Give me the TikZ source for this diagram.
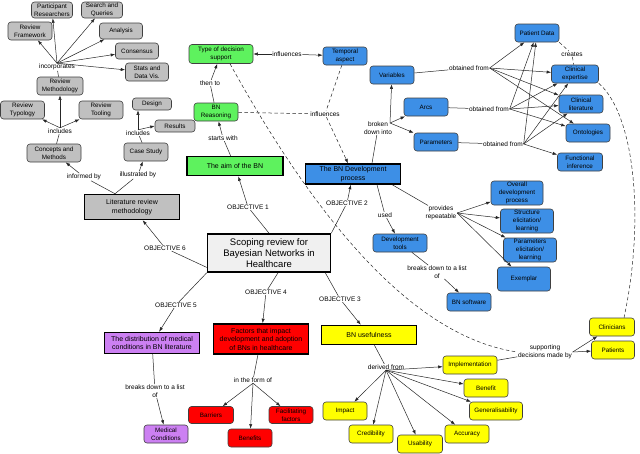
\documentclass[tikz,border=0pt]{standalone}
\usepackage{fontspec}
\setmainfont{Liberation Sans}
\usetikzlibrary{arrows.meta}
\definecolor{gry}{HTML}{C0C0C0}
\definecolor{grn}{HTML}{5EF25E}
\definecolor{blu}{HTML}{3D8FE6}
\definecolor{yel}{HTML}{FFFF00}
\definecolor{rd}{HTML}{FF0000}
\definecolor{prp}{HTML}{CC80F2}
\definecolor{cfill}{HTML}{F0F0F0}
\begin{document}
\begin{tikzpicture}[x=1pt,y=-1pt,
  every node/.style={align=center},
  box/.style={draw=black!75, rounded corners=3pt, line width=0.6pt, font=\fontsize{6.3}{7.8}\selectfont, minimum width=44pt, minimum height=18pt, inner sep=0.5pt},
  gbox/.style={box, fill=gry},
  grbox/.style={box, fill=grn},
  bbox/.style={box, fill=blu},
  ybox/.style={box, fill=yel},
  rbox/.style={box, fill=rd},
  pbox/.style={box, fill=prp},
  mainb/.style={draw=black, line width=1.5pt, font=\fontsize{7}{8.5}\selectfont, minimum width=95pt, minimum height=20pt, inner sep=0.5pt},
  lbl/.style={fill=white, inner sep=0.6pt, font=\fontsize{6.5}{7.5}\selectfont},
  con/.style={draw=black!85, line width=0.5pt},
  arr/.style={con, -{Latex[length=4.5pt,width=3.2pt]}},
  dsh/.style={con, dash pattern=on 3.5pt off 2.5pt}
]
\fill[white] (0,0) rectangle (640,453);
\useasboundingbox (0,0) rectangle (640,453);

% ---------- gray group ----------
\node[gbox,minimum width=41pt,minimum height=16pt] (pr) at (52,10) {Participant\\Researchers};
\node[gbox,minimum width=41pt,minimum height=16pt] (sq) at (102,10) {Search and\\Queries};
\node[gbox] (rf) at (30,31) {Review\\Framework};
\node[gbox,minimum width=43pt,minimum height=16pt] (an) at (121,31) {Analysis};
\node[gbox,minimum width=43pt,minimum height=16pt] (cs) at (137,51) {Consensus};
\node[gbox,minimum width=43pt] (sd) at (147,72) {Stats and\\Data Vis.};
\node[lbl] (inc1) at (57,67) {incorporates};
\node[gbox,minimum width=46pt] (rm) at (60,86) {Review\\Methodology};
\node[gbox] (rt) at (22.5,110) {Review\\Typology};
\node[gbox] (rto) at (101,110) {Review\\Tooling};
\node[lbl] (inc2) at (60,131) {includes};
\node[gbox,minimum width=54pt] (cm) at (54,153) {Concepts and\\Methods};
\node[gbox,minimum width=39pt,minimum height=12pt] (de) at (152,104) {Design};
\node[gbox,minimum width=40pt,minimum height=12pt] (re) at (175,126) {Results};
\node[lbl] (inc3) at (138,133) {includes};
\node[gbox] (cst) at (146,152) {Case Study};
\node[lbl] (inf) at (84,177) {informed by};
\node[lbl] (ill) at (138,175) {illustrated by};
\node[mainb,fill=gry,minimum height=25pt] (lrm) at (132,207) {Literature review\\methodology};

% ---------- green group ----------
\node[grbox,minimum width=64pt,minimum height=19pt] (tds) at (221,54) {Type of decision\\support};
\node[bbox] (tmp) at (345,56) {Temporal\\aspect};
\node[lbl] (infl1) at (287,54) {influences};
\node[lbl] (then) at (210,83) {then to};
\node[grbox] (bnr) at (216,112) {BN\\Reasoning};
\node[lbl] (infl2) at (325,114) {influences};
\node[lbl] (sw) at (223,138) {starts with};
\node[mainb,fill=grn,minimum width=96pt,minimum height=19pt] (aim) at (235,166) {The aim of the BN};

% ---------- blue group ----------
\node[mainb,fill=blu] (bnd) at (353,174) {The BN Development\\process};
\node[lbl] (used) at (385,215) {used};
\node[bbox,minimum width=54pt] (dt) at (400,243) {Development\\tools};
\node[lbl] (prv) at (441,213) {provides\\repeatable};
\node[lbl] (bd) at (437,272) {breaks down to a list\\of};
\node[bbox] (bns) at (469,302) {BN software};
\node[bbox,minimum width=52pt,minimum height=24pt] (ov) at (517,193) {Overall\\development\\process};
\node[bbox,minimum width=53pt,minimum height=24pt] (st) at (527,221) {Structure\\elicitation/\\learning};
\node[bbox,minimum width=53pt,minimum height=24pt] (pe) at (530,250) {Parameters\\elicitation/\\learning};
\node[bbox,minimum width=53pt,minimum height=24pt] (ex) at (524,279) {Exemplar};

\node[bbox] (pd) at (537,33) {Patient Data};
\node[lbl] (crt) at (572,54) {creates};
\node[bbox,minimum width=47pt] (ce) at (575,74) {Clinical\\expertise};
\node[bbox] (cli) at (581,104) {Clinical\\literature};
\node[bbox] (ont) at (588,133) {Ontologies};
\node[bbox,minimum width=45pt] (fi) at (580,162) {Functional\\inference};
\node[bbox] (var) at (392,75) {Variables};
\node[bbox] (arc) at (426,107) {Arcs};
\node[bbox] (par) at (436,142) {Parameters};
\node[lbl] (bdi) at (378,128) {broken\\down into};
\node[lbl] (of1) at (469,68) {obtained from};
\node[lbl] (of2) at (489,109) {obtained from};
\node[lbl] (of3) at (503,144) {obtained from};

% ---------- yellow group ----------
\node[ybox,minimum width=45pt] (clin) at (612,327) {Clinicians};
\node[ybox,minimum width=43pt] (pat) at (613,350) {Patients};
\node[lbl] (sup) at (545,352) {supporting\\decisions made by};
\node[ybox,minimum width=54pt] (impl) at (470,365) {Implementation};
\node[ybox] (ben) at (486,388) {Benefit};
\node[ybox,minimum width=53pt] (gen) at (496,411) {Generalisability};
\node[ybox] (acc) at (467,434) {Accuracy};
\node[ybox,minimum width=45pt] (usa) at (420,444) {Usability};
\node[ybox] (cred) at (371,434) {Credibility};
\node[ybox] (imp) at (345,411) {Impact};
\node[mainb,fill=yel,minimum height=19pt] (bnu) at (369,335) {BN usefulness};
\node[lbl] (der) at (386,367) {derived from};

% ---------- centre and objectives ----------
\node[draw=black, line width=1.6pt, fill=cfill, minimum width=123pt, minimum height=38pt, inner sep=1pt, font=\fontsize{9.5}{11}\selectfont] (cen) at (269,253) {Scoping review for\\Bayesian Networks in\\Healthcare};
\node[lbl] (o1) at (248,207) {OBJECTIVE 1};
\node[lbl] (o2) at (347,203) {OBJECTIVE 2};
\node[lbl] (o3) at (340,299) {OBJECTIVE 3};
\node[lbl] (o4) at (266,292) {OBJECTIVE 4};
\node[lbl] (o5) at (176,305) {OBJECTIVE 5};
\node[lbl] (o6) at (165,248) {OBJECTIVE 6};

% ---------- purple and red ----------
\node[mainb,fill=prp,minimum height=21pt] (dist) at (152,343) {The distribution of medical\\conditions in BN literature};
\node[lbl] (bd2) at (155,391) {breaks down to a list\\of};
\node[pbox] (mc) at (166,434) {Medical\\Conditions};
\node[mainb,fill=rd,minimum height=30pt] (fac) at (261,339) {Factors that impact\\development and adoption\\of BNs in healthcare};
\node[lbl] (itf) at (253,380) {in the form of};
\node[rbox,minimum width=45pt,minimum height=17pt] (bar) at (211,415) {Barriers};
\node[rbox] (bens) at (250,438) {Benefits};
\node[rbox,minimum height=17pt] (ff) at (291,415) {Facilitating\\factors};

% ---------- connectors: gray ----------
\draw[con] (rm) -- (inc1);
\foreach \t in {rf,pr,sq,an,cs,sd} \draw[arr] (inc1.north) -- (\t);
\draw[con] (cm) -- (inc2);
\foreach \t in {rt,rm,rto} \draw[arr] (inc2.north) -- (\t);
\draw[con] (cst) -- (inc3);
\draw[arr] (inc3.north) -- (inc3.north |- de.south);
\draw[arr] (inc3.north) -- (re.west);
\coordinate (lrmtop) at ([xshift=-17pt]lrm.north);
\draw[con] (lrmtop) -- (inf);
\draw[arr] (inf) -- (cm);
\draw[con] (lrmtop) -- (ill);
\draw[arr] (ill) -- (cst);

% ---------- connectors: green ----------
\draw[con] (aim) -- (sw);
\draw[arr] (sw) -- (bnr);
\draw[con] (bnr) -- (then);
\draw[arr] (then) -- (tds);
\draw[arr] (infl1) -- (tds);
\draw[arr] (infl1) -- (tmp);
\draw[dsh] (bnr) -- (infl2);
\draw[dsh] (tmp) -- (infl2);
\draw[dsh,-{Latex[length=4.5pt,width=3.2pt]}] (infl2) -- (bnd);

% ---------- connectors: blue ----------
\draw[con] ([xshift=19pt]bnd.north) -- (bdi);
\coordinate (bdo) at (390,123);
\draw[arr] (bdo) -- (var);
\draw[arr] (bdo) -- (arc);
\draw[arr] (bdo) -- (par);
\draw[con] (var) -- (of1);
\foreach \t in {pd,ce,cli,ont} \draw[arr] (of1.east) -- (\t);
\draw[con] (arc) -- (of2);
\foreach \t in {pd,ce,cli,ont} \draw[arr] (of2.east) -- (\t);
\draw[con] (par) -- (of3);
\foreach \t in {pd,ce,cli,fi} \draw[arr] (of3.east) -- (\t);
\draw[dsh] (pd.south east) -- (crt);
\draw[dsh] (crt) -- (ce);
\draw[dsh] (ce.south east) .. controls (635,115) and (645,220) .. ([xshift=12pt]clin.north);
\draw[con] ([xshift=24pt]bnd.south) -- (used);
\draw[arr] (used) -- (dt);
\draw[con] (dt) -- (bd);
\draw[arr] (bd) -- (bns);
\draw[con] ([xshift=-9pt]bnd.south east) -- (prv);
\foreach \t in {ov,st,pe,ex} \draw[arr] (prv.east) -- (\t);

% ---------- connectors: objectives ----------
\draw[con] (cen.north) -- (o1);
\draw[arr] (o1) -- (aim);
\draw[con] (cen.north east) -- (o2);
\draw[arr] (o2) -- (bnd);
\draw[con] (cen.193) -- (o6);
\draw[arr] (o6) -- (lrm);
\draw[con] (cen.south west) -- (o5);
\draw[arr] (o5) -- (dist);
\draw[con] ([xshift=9pt]cen.south) -- (o4);
\draw[arr] (o4) -- (fac);
\draw[con] ([xshift=-6pt]cen.south east) -- (o3);
\draw[arr] (o3) -- (bnu);

% ---------- connectors: yellow ----------
\draw[con] (bnu) -- (der);
\foreach \t in {impl,ben,gen,acc,usa,cred,imp} \draw[arr] (der.south) -- (\t);
\draw[con] (impl) -- (sup);
\draw[arr] (sup.east) -- (clin);
\draw[arr] (sup.east) -- (pat);
\draw[dsh] ([xshift=9pt]tds.south) .. controls (300,190) and (400,335) .. (sup.west);

% ---------- connectors: purple / red ----------
\draw[con] (dist) -- (bd2);
\draw[arr] (bd2) -- (mc);
\draw[con] (fac) -- (itf);
\foreach \t in {bar,bens,ff} \draw[arr] (itf.south) -- (\t);
\end{tikzpicture}
\end{document}
